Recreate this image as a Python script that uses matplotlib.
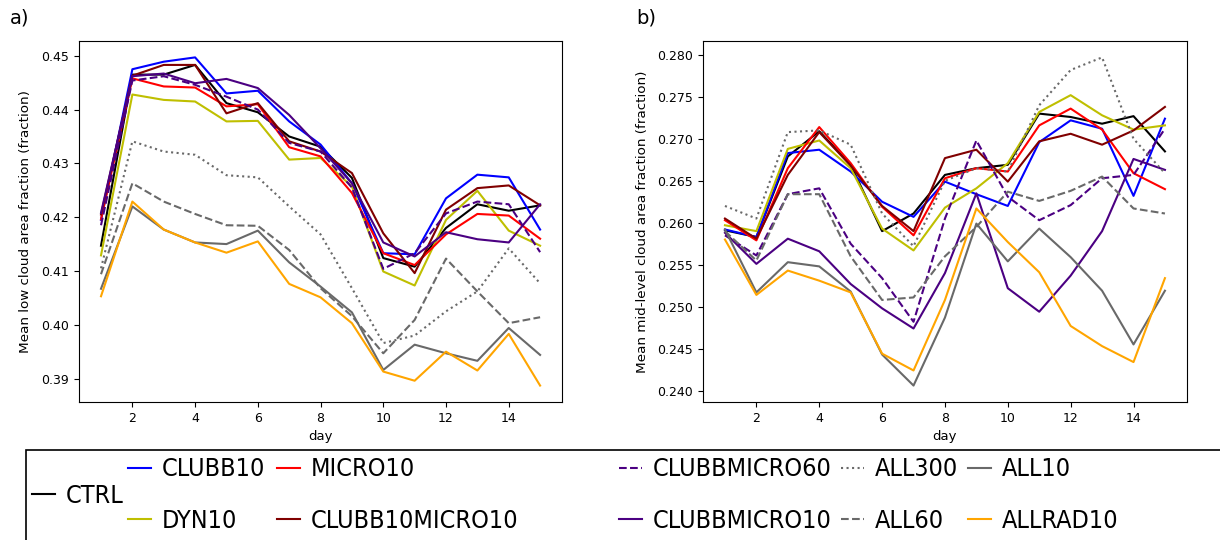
import numpy as np
import matplotlib
matplotlib.use("Agg")
import matplotlib.pyplot as plt
from matplotlib.patches import Rectangle
from matplotlib import font_manager as fm

days = np.arange(1, 16)

names = ["CTRL", "CLUBB10", "DYN10", "MICRO10", "CLUBB10MICRO10", "CLUBBMICRO60",
         "CLUBBMICRO10", "ALL300", "ALL60", "ALL10", "ALLRAD10"]

# mean low cloud fraction (panel a)
ctrl_low = [0.4147, 0.4465, 0.4465, 0.4483, 0.4412, 0.4395, 0.4350, 0.4331, 0.4273, 0.4124, 0.4108, 0.4180, 0.4224, 0.4212, 0.4222]
clubb10_low = [0.4195, 0.4475, 0.4489, 0.4497, 0.4430, 0.4435, 0.4378, 0.4335, 0.4263, 0.4133, 0.4131, 0.4235, 0.4279, 0.4274, 0.4177]
dyn10_low = [0.4129, 0.4428, 0.4418, 0.4415, 0.4378, 0.4379, 0.4307, 0.4310, 0.4257, 0.4099, 0.4073, 0.4195, 0.4249, 0.4175, 0.4147]
micro10_low = [0.4196, 0.4458, 0.4443, 0.4441, 0.4406, 0.4410, 0.4330, 0.4313, 0.4245, 0.4133, 0.4111, 0.4168, 0.4206, 0.4203, 0.4160]
clubb10micro10_low = [0.4205, 0.4463, 0.4483, 0.4483, 0.4393, 0.4412, 0.4341, 0.4322, 0.4282, 0.4170, 0.4096, 0.4214, 0.4254, 0.4259, 0.4222]
clubbmicro60_low = [0.4185, 0.4454, 0.4462, 0.4446, 0.4424, 0.4400, 0.4338, 0.4322, 0.4255, 0.4104, 0.4133, 0.4207, 0.4229, 0.4224, 0.4135]
clubbmicro10_low = [0.4208, 0.4462, 0.4467, 0.4449, 0.4457, 0.4440, 0.4390, 0.4328, 0.4263, 0.4153, 0.4127, 0.4172, 0.4159, 0.4153, 0.4224]
all300_low = [0.4105, 0.4341, 0.4322, 0.4316, 0.4278, 0.4274, 0.4220, 0.4168, 0.4068, 0.3966, 0.3980, 0.4025, 0.4062, 0.4142, 0.4077]
all60_low = [0.4094, 0.4263, 0.4229, 0.4206, 0.4185, 0.4184, 0.4139, 0.4068, 0.4016, 0.3947, 0.4009, 0.4123, 0.4062, 0.4003, 0.4014]
all10_low = [0.4067, 0.4220, 0.4177, 0.4153, 0.4150, 0.4175, 0.4116, 0.4071, 0.4023, 0.3916, 0.3963, 0.3947, 0.3933, 0.3994, 0.3944]
allrad10_low = [0.4053, 0.4229, 0.4177, 0.4153, 0.4134, 0.4155, 0.4076, 0.4051, 0.4003, 0.3913, 0.3896, 0.3950, 0.3915, 0.3983, 0.3887]

# mean mid-level cloud fraction (panel b)
ctrl_mid = [0.2591, 0.2583, 0.2679, 0.2709, 0.2669, 0.2590, 0.2611, 0.2657, 0.2665, 0.2669, 0.2730, 0.2726, 0.2718, 0.2727, 0.2685]
clubb10_mid = [0.2592, 0.2583, 0.2683, 0.2687, 0.2661, 0.2625, 0.2607, 0.2649, 0.2634, 0.2620, 0.2696, 0.2722, 0.2712, 0.2632, 0.2724]
dyn10_mid = [0.2597, 0.2590, 0.2688, 0.2698, 0.2665, 0.2593, 0.2567, 0.2618, 0.2641, 0.2671, 0.2732, 0.2752, 0.2728, 0.2711, 0.2716]
micro10_mid = [0.2603, 0.2579, 0.2665, 0.2714, 0.2671, 0.2619, 0.2585, 0.2653, 0.2665, 0.2661, 0.2716, 0.2736, 0.2711, 0.2659, 0.2640]
clubb10micro10_mid = [0.2605, 0.2581, 0.2657, 0.2708, 0.2668, 0.2620, 0.2590, 0.2677, 0.2687, 0.2649, 0.2697, 0.2706, 0.2693, 0.2710, 0.2738]
clubbmicro60_mid = [0.2585, 0.2561, 0.2634, 0.2641, 0.2575, 0.2534, 0.2482, 0.2605, 0.2698, 0.2631, 0.2603, 0.2621, 0.2653, 0.2657, 0.2712]
clubbmicro10_mid = [0.2588, 0.2551, 0.2581, 0.2566, 0.2527, 0.2498, 0.2474, 0.2540, 0.2635, 0.2522, 0.2494, 0.2537, 0.2590, 0.2676, 0.2663]
all300_mid = [0.2620, 0.2605, 0.2708, 0.2710, 0.2693, 0.2611, 0.2572, 0.2650, 0.2665, 0.2661, 0.2740, 0.2782, 0.2797, 0.2700, 0.2659]
all60_mid = [0.2590, 0.2555, 0.2634, 0.2634, 0.2560, 0.2508, 0.2511, 0.2560, 0.2595, 0.2637, 0.2626, 0.2638, 0.2655, 0.2617, 0.2611]
all10_mid = [0.2592, 0.2517, 0.2553, 0.2548, 0.2518, 0.2443, 0.2406, 0.2487, 0.2599, 0.2554, 0.2593, 0.2559, 0.2519, 0.2455, 0.2519]
allrad10_mid = [0.2580, 0.2514, 0.2543, 0.2531, 0.2517, 0.2444, 0.2424, 0.2508, 0.2617, 0.2577, 0.2541, 0.2477, 0.2453, 0.2434, 0.2534]

low = [ctrl_low, clubb10_low, dyn10_low, micro10_low, clubb10micro10_low, clubbmicro60_low,
       clubbmicro10_low, all300_low, all60_low, all10_low, allrad10_low]
mid = [ctrl_mid, clubb10_mid, dyn10_mid, micro10_mid, clubb10micro10_mid, clubbmicro60_mid,
       clubbmicro10_mid, all300_mid, all60_mid, all10_mid, allrad10_mid]

colors = ["black", "blue", "#bfbf00", "red", "maroon", "indigo",
          "indigo", "dimgray", "dimgray", "dimgray", "orange"]
styles = ["-", "-", "-", "-", "-", "--", "-", ":", "--", "-", "-"]

# legend text in the original is tall and narrow: use condensed DejaVu if present
cond = fm.FontProperties(family="DejaVu Sans", stretch="condensed")
if "Condensed" in fm.findfont(cond, fallback_to_default=True):
    leg_font = fm.FontProperties(family="DejaVu Sans", stretch="condensed", size=18)
    leg_space = 1.08
else:
    leg_font = fm.FontProperties(family="DejaVu Sans", size=16.2)
    leg_space = 1.3

fig = plt.figure(figsize=(12.2, 5.4), dpi=100)
ax1 = fig.add_axes([0.0648, 0.2556, 0.3959, 0.6685])
ax2 = fig.add_axes([0.5762, 0.2556, 0.3967, 0.6685])

lines = []
for i in range(len(names)):
    l, = ax1.plot(days, low[i], color=colors[i], ls=styles[i], lw=1.5, label=names[i])
    ax2.plot(days, mid[i], color=colors[i], ls=styles[i], lw=1.5)
    lines.append(l)

ax1.set_ylabel("Mean low cloud area fraction (fraction)", fontsize=9.7)
ax2.set_ylabel("Mean mid-level cloud area fraction (fraction)", fontsize=9.7)
for ax in (ax1, ax2):
    ax.set_xlabel("day", fontsize=9.5)
    ax.tick_params(labelsize=9)
ax1.yaxis.set_label_coords(-0.097, 0.5)
ax2.yaxis.set_label_coords(-0.112, 0.5)

fig.text(10 / 1220, 1 - 18 / 540, "a)", fontsize=14, va="center")
fig.text(636 / 1220, 1 - 18 / 540, "b)", fontsize=14, va="center")

# legend box (runs off the bottom/right like the original)
fig.patches.append(Rectangle((26 / 1220, -0.05), 1.1, (540 - 450) / 540 + 0.05,
                             transform=fig.transFigure, fill=False, ec="black", lw=1.2))

cols = [([0], 32, 496), ([1, 2], 128, 495), ([3, 4], 277, 495),
        ([5, 6], 619, 495), ([7, 8], 841, 495), ([9, 10], 968, 495)]
for idx, xpx, ypx in cols:
    fig.legend([lines[k] for k in idx], [names[k] for k in idx],
               loc="center left", bbox_to_anchor=(xpx / 1220, 1 - ypx / 540),
               frameon=False, prop=leg_font, handlelength=0.9, handletextpad=0.45,
               labelspacing=leg_space, borderpad=0, borderaxespad=0)

fig.savefig("out.png", dpi=100)
